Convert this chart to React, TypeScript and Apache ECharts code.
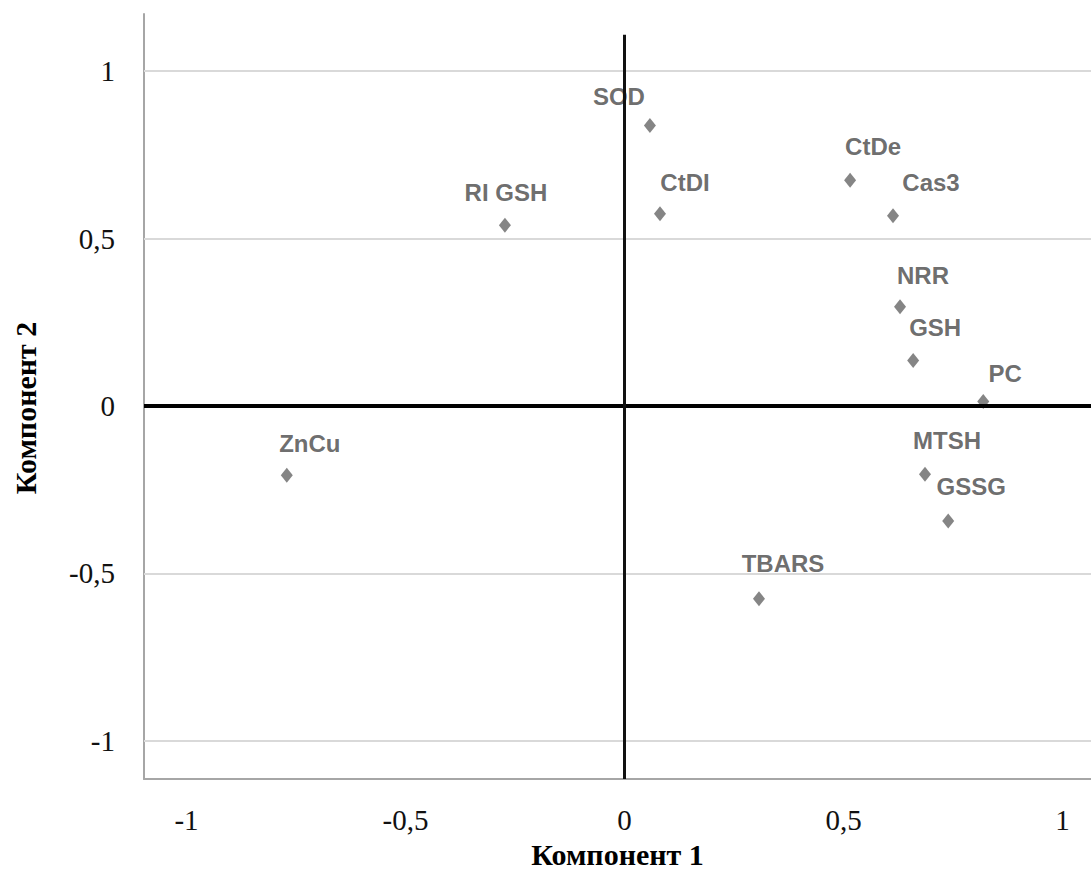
import React, { useEffect, useRef } from "react";
import * as echarts from "echarts";

// Component loadings (Компонент 1, Компонент 2)
const names = ["SOD", "CtDI", "RI GSH", "CtDe", "Cas3", "NRR", "GSH", "PC", "MTSH", "GSSG", "TBARS", "ZnCu"];
const comp1 = [0.058, 0.081, -0.273, 0.515, 0.613, 0.629, 0.659, 0.819, 0.686, 0.739, 0.307, -0.771];
const comp2 = [0.838, 0.574, 0.54, 0.674, 0.568, 0.296, 0.136, 0.013, -0.204, -0.344, -0.576, -0.207];
const tickValues = [-1, -0.5, 0, 0.5, 1];
const gridValues = [1, 0.5, -0.5, -1];

// label offsets (text centre relative to marker centre), px
const labelOffsets: [number, number][] = [
  [-31, -29], [25, -31], [1, -33], [23, -34], [38, -33], [23, -31],
  [22, -33], [22, -28], [22, -34], [23, -35], [24, -35], [23, -32],
];

const X_MIN = -1.097;
const X_MAX = 1.065;
const Y_MIN = -1.115;
const Y_MAX = 1.171;
const V_LINE_TOP = 1.109;

const fmt = (v: number) => String(v).replace(".", ",");

export default function App() {
  const ref = useRef<HTMLDivElement>(null);

  useEffect(() => {
    if (!ref.current) return;
    const chart = echarts.init(ref.current, undefined, { renderer: "svg" });
    const serif = "'Liberation Serif', 'Times New Roman', serif";
    const sans = "'Liberation Sans', Arial, sans-serif";

    const data = names.map((n, i) => ({
      value: [comp1[i], comp2[i]],
      name: n,
      label: { offset: labelOffsets[i] },
    }));

    chart.setOption({
      animation: false,
      backgroundColor: "#ffffff",
      grid: { left: 144, right: 0, top: 14, bottom: 92 },
      xAxis: {
        type: "value",
        min: X_MIN,
        max: X_MAX,
        axisLine: { show: true, onZero: false, lineStyle: { color: "#a6a6a6", width: 2 } },
        axisTick: { show: false },
        splitLine: { show: false },
        axisLabel: {
          customValues: tickValues,
          formatter: fmt,
          margin: 26,
          color: "#111",
          fontFamily: serif,
          fontSize: 29,
        },
        name: "Компонент 1",
        nameLocation: "middle",
        nameGap: 58,
        nameTextStyle: { fontFamily: serif, fontWeight: "bold", fontSize: 30, color: "#000" },
      },
      yAxis: {
        type: "value",
        min: Y_MIN,
        max: Y_MAX,
        axisLine: { show: true, onZero: false, lineStyle: { color: "#a6a6a6", width: 2 } },
        axisTick: { show: false },
        splitLine: { show: false },
        axisLabel: {
          customValues: tickValues,
          formatter: fmt,
          margin: 29,
          color: "#111",
          fontFamily: serif,
          fontSize: 29,
        },
      },
      graphic: [
        {
          type: "text",
          x: 25,
          y: 408,
          rotation: Math.PI / 2,
          style: {
            text: "Компонент 2",
            fontFamily: serif,
            fontWeight: "bold",
            fontSize: 30,
            fill: "#000",
            align: "center",
            verticalAlign: "middle",
          },
        },
      ],
      series: [
        {
          type: "scatter",
          symbol: "diamond",
          symbolSize: [12, 15],
          itemStyle: { color: "#666666" },
          data,
          label: {
            show: true,
            position: "inside",
            align: "center",
            verticalAlign: "middle",
            formatter: (p: any) => p.name,
            fontFamily: sans,
            fontWeight: "bold",
            fontSize: 24,
            color: "#474747",
          },
          markLine: {
            silent: true,
            symbol: "none",
            label: { show: false },
            data: [
              ...gridValues.map((v) => ({ yAxis: v, lineStyle: { color: "#d9d9d9", width: 2, type: "solid" } })),
              { yAxis: 0, lineStyle: { color: "#000", width: 4, type: "solid" } },
              [
                { coord: [0, Y_MIN], lineStyle: { color: "#111", width: 3, type: "solid" } },
                { coord: [0, V_LINE_TOP] },
              ],
            ],
          },
          z: 3,
        },
      ],
    });

    return () => chart.dispose();
  }, []);

  return (
    <div
      ref={ref}
      style={{ position: "fixed", left: 0, top: 0, width: 1091, height: 874, background: "#fff" }}
    />
  );
}
